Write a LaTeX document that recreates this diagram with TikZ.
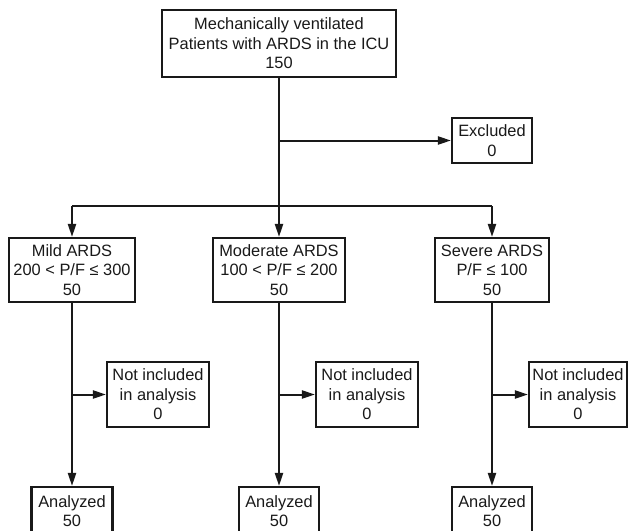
\documentclass[tikz,border=0pt]{standalone}
\usepackage{fontspec}
\setmainfont{Liberation Sans}
\usetikzlibrary{arrows.meta}
\begin{document}
\begin{tikzpicture}[x=1pt,y=-1pt,
  box/.style={draw=black!90, line width=2.1pt, align=center, inner sep=0pt,
    font=\fontsize{16.4}{19.5}\selectfont, text=black!90},
  conn/.style={draw=black!90, line width=2pt},
  arr/.style={conn, -{Triangle[length=13pt,width=8pt]}}]
\useasboundingbox (0,0) rectangle (628,530);
\node[box, minimum width=234pt, minimum height=67pt] (top) at (279,43.5)
  {Mechanically ventilated\\Patients with ARDS in the ICU\\150};
\node[box, minimum width=80pt, minimum height=45pt] (excl) at (492,140.5)
  {Excluded\\0};
\node[box, minimum width=126pt, minimum height=64pt] (mild) at (72,270)
  {Mild ARDS\\200 < P/F ≤ 300\\50};
\node[box, minimum width=132pt, minimum height=64pt] (mod) at (279,270)
  {Moderate ARDS\\100 < P/F ≤ 200\\50};
\node[box, minimum width=114pt, minimum height=64pt] (sev) at (492,270)
  {Severe ARDS\\P/F ≤ 100\\50};
\node[box, minimum width=102pt, minimum height=65pt] (ni1) at (158,394.5)
  {Not included\\in analysis\\0};
\node[box, minimum width=102pt, minimum height=65pt] (ni2) at (367,394.5)
  {Not included\\in analysis\\0};
\node[box, minimum width=98pt, minimum height=65pt] (ni3) at (578,394.5)
  {Not included\\in analysis\\0};
\node[box, minimum width=81pt, minimum height=48pt] (an1) at (72,511)
  {Analyzed\\50};
\node[box, minimum width=80pt, minimum height=48pt] (an2) at (279,511)
  {Analyzed\\50};
\node[box, minimum width=80pt, minimum height=48pt] (an3) at (492,511)
  {Analyzed\\50};
\coordinate (jx) at (279,140.5);
\coordinate (bus) at (279,206);
\coordinate (busl) at (72,206);
\coordinate (busr) at (492,206);
\coordinate (j1) at (72,394.5);
\coordinate (j2) at (279,394.5);
\coordinate (j3) at (492,394.5);
\draw[conn] (top.south) -- (bus);
\draw[arr] (jx) -- (excl.west);
\draw[conn] (busl) -- (busr);
\draw[arr] (busl) -- (mild.north);
\draw[arr] (bus) -- (mod.north);
\draw[arr] (busr) -- (sev.north);
\draw[arr] (mild.south) -- (an1.north);
\draw[arr] (mod.south) -- (an2.north);
\draw[arr] (sev.south) -- (an3.north);
\draw[arr] (j1) -- (ni1.west);
\draw[arr] (j2) -- (ni2.west);
\draw[arr] (j3) -- (ni3.west);
\end{tikzpicture}
\end{document}
